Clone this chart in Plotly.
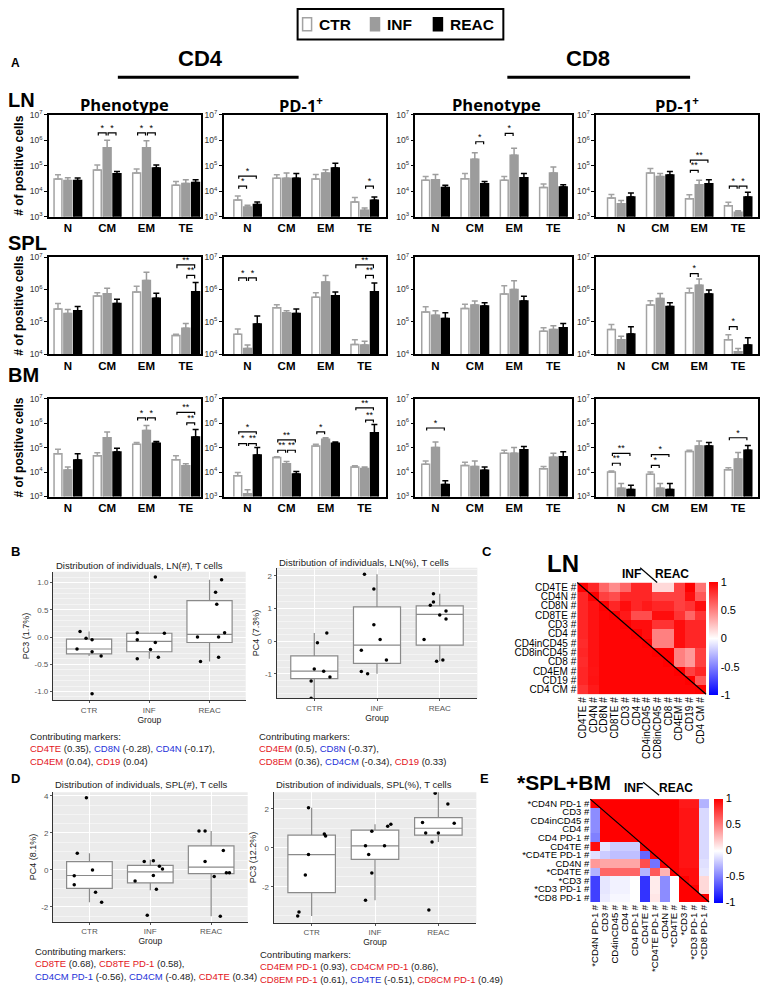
import plotly.graph_objects as go

W, H = 763, 994


def fx(x):
    return x / W


def fy(y):
    return 1 - y / H


GROUPS = ["CTR", "INF", "REAC"]
SUBSETS = ["N", "CM", "EM", "TE"]
Y_TICKVALS = [1e3, 1e4, 1e5, 1e6, 1e7]
Y_TICKTEXT = ["10<sup>3</sup>", "10<sup>4</sup>", "10<sup>5</sup>", "10<sup>6</sup>", "10<sup>7</sup>"]

# ---------------- Panel A: means (rows CTR, INF, REAC) and mean+SEM ----------------
LN_CD4_PHEN = [[3.0e4, 6.8e4, 5.2e4, 1.7e4], [2.6e4, 5.1e5, 5.1e5, 2.0e4], [2.6e4, 4.8e4, 8.1e4, 2.2e4]]
LN_CD4_PHEN_TOP = [[4.4e4, 1.07e5, 7.4e4, 2.4e4], [3.4e4, 1.0e6, 9.5e5, 2.8e4], [3.3e4, 5.9e4, 1.07e5, 2.8e4]]
LN_CD4_PD1 = [[4.5e3, 3.2e4, 3.0e4, 3.8e3], [2.4e3, 3.2e4, 5.2e4, 1.8e3], [3.0e3, 3.2e4, 8.1e4, 4.4e3]]
LN_CD4_PD1_TOP = [[6.5e3, 4.4e4, 4.5e4, 5.6e3], [2.8e3, 5.2e4, 7.0e4, 2.2e3], [3.8e3, 5.0e4, 1.26e5, 5.9e3]]
LN_CD8_PHEN = [[2.7e4, 3.1e4, 2.7e4, 1.4e4], [2.8e4, 1.8e5, 2.6e5, 5.2e4], [1.4e4, 1.95e4, 3.4e4, 1.45e4]]
LN_CD8_PHEN_TOP = [[3.8e4, 4.9e4, 3.8e4, 1.9e4], [4.5e4, 3.2e5, 4.8e5, 9.0e4], [1.7e4, 2.4e4, 4.9e4, 1.8e4]]
LN_CD8_PD1 = [[5.4e3, 5.2e4, 5.0e3, 2.7e3], [3.2e3, 3.8e4, 1.8e4, 1.5e3], [5.9e3, 4.3e4, 1.95e4, 5.9e3]]
LN_CD8_PD1_TOP = [[7.4e3, 7.8e4, 7.2e3, 3.7e3], [4.3e3, 4.9e4, 2.7e4, 1.7e3], [8.4e3, 5.9e4, 2.8e4, 9.1e3]]

SPL_CD4_PHEN = [[2.5e5, 6.3e5, 8.3e5, 3.8e4], [1.8e5, 7.4e5, 1.9e6, 6.3e4], [2.2e5, 3.7e5, 5.4e5, 8.5e5]]
SPL_CD4_PHEN_TOP = [[3.7e5, 7.9e5, 1.26e6, 4.1e4], [2.4e5, 1.1e6, 3.4e6, 8.9e4], [3.0e5, 5.0e5, 7.6e5, 1.66e6]]
SPL_CD4_PD1 = [[4.1e4, 2.7e5, 5.8e5, 2.0e4], [1.5e4, 1.9e5, 1.7e6, 1.9e4], [8.6e4, 1.8e5, 6.4e5, 8.5e5]]
SPL_CD4_PD1_TOP = [[6.0e4, 3.4e5, 7.9e5, 2.8e4], [1.9e4, 2.2e5, 2.7e6, 2.5e4], [1.5e5, 2.5e5, 8.3e5, 1.6e6]]
SPL_CD8_PHEN = [[2.0e5, 2.6e5, 7.2e5, 5.1e4], [1.6e5, 3.3e5, 1.0e6, 5.8e4], [1.27e5, 3.1e5, 4.4e5, 6.5e4]]
SPL_CD8_PHEN_TOP = [[2.9e5, 3.5e5, 1.3e6, 6.5e4], [2.2e5, 4.4e5, 1.85e6, 7.5e4], [1.9e5, 3.9e5, 6.2e5, 8.9e4]]
SPL_CD8_PD1 = [[5.8e4, 3.3e5, 7.9e5, 2.8e4], [2.8e4, 5.3e5, 1.36e6, 1.18e4], [4.2e4, 3.0e5, 7.2e5, 1.9e4]]
SPL_CD8_PD1_TOP = [[8.3e4, 4.5e5, 1.1e6, 4.0e4], [3.6e4, 7.5e5, 2.1e6, 1.5e4], [7.0e4, 3.9e5, 9.6e5, 3.2e4]]

BM_CD4_PHEN = [[5.6e4, 4.6e4, 1.35e5, 3.2e4], [1.2e4, 2.5e5, 5.0e5, 1.8e4], [3.1e4, 6.6e4, 1.5e5, 2.7e5]]
BM_CD4_PHEN_TOP = [[8.5e4, 6.2e4, 1.6e5, 4.6e4], [1.6e4, 4.3e5, 8.0e5, 2.2e4], [5.6e4, 9.3e4, 1.75e5, 5.5e5]]
BM_CD4_PD1 = [[7.1e3, 3.9e4, 1.15e5, 1.6e4], [1.3e3, 2.2e4, 2.2e5, 1.4e4], [5.0e4, 8.3e3, 1.5e5, 4.0e5]]
BM_CD4_PD1_TOP = [[9.6e3, 4.2e4, 1.35e5, 1.8e4], [1.9e3, 2.7e4, 2.5e5, 1.6e4], [1.0e5, 1.05e4, 1.7e5, 8.7e5]]
BM_CD8_PHEN = [[2.1e4, 1.85e4, 5.9e4, 1.36e4], [1.0e5, 1.7e4, 5.9e4, 4.0e4], [3.1e3, 1.17e4, 8.1e4, 4.2e4]]
BM_CD8_PHEN_TOP = [[2.8e4, 2.5e4, 7.8e4, 1.7e4], [1.7e5, 2.8e4, 1.0e5, 5.9e4], [4.4e3, 1.6e4, 1.1e5, 6.7e4]]
BM_CD8_PD1 = [[1.0e4, 8.1e3, 6.9e4, 1.24e4], [2.2e3, 2.2e3, 1.17e5, 3.4e4], [1.95e3, 1.95e3, 1.17e5, 7.8e4]]
BM_CD8_PD1_TOP = [[1.1e4, 1.0e4, 7.8e4, 1.5e4], [3.4e3, 3.4e3, 1.85e5, 6.3e4], [2.9e3, 3.4e3, 1.6e5, 1.2e5]]

# significance brackets: (subset index, group a, group b, log10 level, label)
LN_CD4_PHEN_SIG = [(1, 0, 1, 6.29, "*"), (1, 1, 2, 6.29, "*"), (2, 0, 1, 6.29, "*"), (2, 1, 2, 6.29, "*")]
LN_CD4_PD1_SIG = [(0, 0, 1, 4.2, "*"), (0, 0, 2, 4.59, "*"), (3, 1, 2, 4.2, "*")]
LN_CD8_PHEN_SIG = [(1, 1, 2, 5.94, "*"), (2, 0, 1, 6.27, "*")]
LN_CD8_PD1_SIG = [(2, 0, 1, 4.82, "**"), (2, 0, 2, 5.22, "**"), (3, 0, 1, 4.2, "*"), (3, 1, 2, 4.2, "*")]
SPL_CD4_PHEN_SIG = [(3, 1, 2, 6.44, "**"), (3, 0, 2, 6.76, "**")]
SPL_CD4_PD1_SIG = [(0, 0, 1, 6.36, "*"), (0, 1, 2, 6.36, "*"), (3, 1, 2, 6.44, "**"), (3, 0, 2, 6.76, "**")]
SPL_CD8_PHEN_SIG = []
SPL_CD8_PD1_SIG = [(2, 0, 1, 6.49, "*"), (3, 0, 1, 4.85, "*")]
BM_CD4_PHEN_SIG = [(2, 0, 1, 6.21, "*"), (2, 1, 2, 6.21, "*"), (3, 1, 2, 6.01, "**"), (3, 0, 2, 6.44, "**")]
BM_CD4_PD1_SIG = [(0, 0, 1, 5.16, "*"), (0, 1, 2, 5.16, "**"), (0, 0, 2, 5.64, "*"),
                  (1, 0, 1, 4.89, "**"), (1, 1, 2, 4.89, "**"), (1, 0, 2, 5.31, "**"),
                  (2, 0, 1, 5.64, "*"), (3, 1, 2, 6.12, "**"), (3, 0, 2, 6.62, "**")]
BM_CD8_PHEN_SIG = [(0, 0, 2, 5.8, "*")]
BM_CD8_PD1_SIG = [(0, 0, 1, 4.36, "**"), (0, 0, 2, 4.76, "**"), (1, 0, 1, 4.27, "*"),
                  (1, 0, 2, 4.71, "*"), (3, 0, 2, 5.4, "*")]

# ---------------- Panels B / D: PCA boxplots ----------------
LN_ABS_Q1 = [-0.31, -0.27, -0.10]
LN_ABS_MED = [-0.22, -0.08, 0.05]
LN_ABS_Q3 = [-0.04, 0.07, 0.67]
LN_ABS_LOW = [-0.35, -0.40, -0.45]
LN_ABS_HIGH = [0.10, 0.08, 1.05]
LN_ABS_POINTS = [[0.10, -0.02, -0.05, -0.22, -0.27, -0.35, -1.04],
                 [1.10, 0.08, 0.07, -0.05, -0.10, -0.23, -0.37, -0.40],
                 [1.05, 0.82, 0.60, 0.08, 0.00, 0.00, -0.37, -0.45]]
LN_ABS_JITTER = [[-0.15, -0.05, 0.05, -0.2, 0.05, 0.2, 0.05],
                 [0.1, -0.2, 0.25, -0.2, 0.1, 0.02, 0.15, -0.2],
                 [0.2, 0.1, 0.12, 0.25, 0.15, -0.2, 0.15, -0.15]]

LN_PCT_Q1 = [-1.15, -0.68, -0.12]
LN_PCT_MED = [-0.92, -0.12, 0.82]
LN_PCT_Q3 = [-0.45, 1.05, 1.08]
LN_PCT_LOW = [-1.75, -1.00, -0.62]
LN_PCT_HIGH = [0.25, 2.05, 1.45]
LN_PCT_POINTS = [[0.25, -0.05, -0.85, -0.92, -1.10, -1.22, -1.75],
                 [2.05, 1.60, 0.50, 0.05, -0.28, -0.58, -0.93, -1.00],
                 [1.45, 1.20, 1.10, 0.92, 0.80, 0.68, 0.05, -0.58, -0.62]]
LN_PCT_JITTER = [[0.2, 0.05, 0.0, 0.15, 0.25, -0.05, -0.05],
                 [-0.2, -0.05, -0.05, 0.05, -0.25, 0.15, -0.25, -0.15],
                 [-0.1, -0.1, -0.15, 0.1, 0.0, 0.1, -0.25, 0.05, -0.05]]

SPL_ABS_Q1 = [-1.0, -0.7, -0.2]
SPL_ABS_MED = [-0.3, -0.1, 0.15]
SPL_ABS_Q3 = [0.45, 0.25, 1.3]
SPL_ABS_LOW = [-1.75, -1.1, -2.5]
SPL_ABS_HIGH = [0.9, 0.55, 2.1]
SPL_ABS_POINTS = [[3.9, 0.9, 0.0, -0.32, -0.8, -1.2, -1.75],
                  [0.5, 0.45, 0.2, 0.05, -0.3, -0.6, -1.05, -2.45],
                  [2.1, 2.1, 1.05, 0.45, -0.15, -0.15, -0.35, -2.5]]
SPL_ABS_JITTER = [[-0.05, -0.2, 0.05, -0.25, -0.25, 0.1, 0.2],
                  [0.05, -0.1, 0.15, 0.2, 0.05, -0.25, 0.1, -0.05],
                  [-0.2, -0.1, 0.2, -0.1, 0.25, 0.3, 0.05, 0.15]]

SPL_PCT_Q1 = [-2.3, -0.6, 0.65]
SPL_PCT_MED = [-0.35, 0.1, 1.0]
SPL_PCT_Q3 = [0.65, 0.9, 1.55]
SPL_PCT_LOW = [-3.5, -2.7, 0.3]
SPL_PCT_HIGH = [2.05, 1.2, 2.9]
SPL_PCT_POINTS = [[2.05, 0.7, 0.6, -0.35, -1.4, -3.3, -3.5],
                  [1.2, 1.1, 0.85, 0.1, 0.1, -0.35, -1.3, -2.7],
                  [2.8, 2.25, 1.3, 1.25, 0.75, 0.75, 0.3, -3.2]]
SPL_PCT_JITTER = [[-0.05, 0.2, 0.22, -0.05, -0.1, -0.2, -0.22],
                  [0.25, 0.2, -0.05, -0.15, 0.15, -0.1, -0.05, -0.15],
                  [-0.05, 0.15, -0.25, 0.25, -0.2, 0.0, -0.1, -0.15]]

LN_ABS_MARKERS = [("CD4TE", 0.35), ("CD8N", -0.28), ("CD4N", -0.17), ("CD4EM", 0.04), ("CD19", 0.04)]
LN_PCT_MARKERS = [("CD4EM", 0.5), ("CD8N", -0.37), ("CD8EM", 0.36), ("CD4CM", -0.34), ("CD19", 0.33)]
SPL_ABS_MARKERS = [("CD8TE", 0.68), ("CD8TE PD-1", 0.58), ("CD4CM PD-1", -0.56), ("CD4CM", -0.48), ("CD4TE", 0.34)]
SPL_PCT_MARKERS = [("CD4EM PD-1", 0.93), ("CD4CM PD-1", 0.86), ("CD8EM PD-1", 0.61), ("CD4TE", -0.51), ("CD8CM PD-1", 0.49)]

# ---------------- Panels C / E: correlation matrices ----------------
LN_LABELS = ["CD4TE #", "CD4N #", "CD8N #", "CD8TE #", "CD3 #", "CD4 #", "CD4inCD45 #",
             "CD8inCD45 #", "CD8 #", "CD4EM #", "CD19 #", "CD4 CM #"]
LN_CORR = [
    [1.00, 0.85, 0.60, 0.45, 0.60, 0.85, 0.85, 0.15, 0.15, 0.75, 1.00, 0.55],
    [0.85, 1.00, 0.75, 0.70, 0.85, 0.85, 0.85, 0.75, 0.75, 0.75, 0.95, 0.65],
    [0.85, 0.93, 1.00, 0.85, 0.95, 0.85, 0.90, 0.85, 0.85, 0.75, 0.80, 0.95],
    [0.85, 0.93, 0.98, 1.00, 0.90, 0.70, 0.70, 0.95, 0.95, 0.80, 0.60, 0.80],
    [0.85, 0.93, 0.98, 0.98, 1.00, 0.95, 0.95, 0.80, 0.80, 0.95, 0.85, 0.85],
    [0.85, 0.93, 0.98, 0.98, 0.98, 1.00, 0.95, 0.50, 0.50, 0.95, 0.85, 0.85],
    [0.83, 0.93, 0.98, 0.98, 0.98, 0.98, 1.00, 0.50, 0.50, 0.95, 0.85, 0.85],
    [0.85, 0.93, 0.98, 0.98, 0.98, 0.98, 0.98, 1.00, 1.00, 0.50, 0.40, 0.75],
    [0.83, 0.93, 0.98, 0.98, 0.98, 0.98, 0.98, 0.98, 1.00, 0.50, 0.40, 0.75],
    [0.85, 0.92, 0.98, 0.98, 0.98, 0.98, 0.98, 0.98, 0.98, 1.00, 0.75, 0.85],
    [0.85, 0.93, 0.98, 0.98, 0.98, 0.98, 0.98, 0.98, 0.98, 0.98, 1.00, 0.65],
    [0.80, 0.90, 0.98, 0.98, 0.98, 0.98, 0.98, 0.98, 0.98, 0.98, 0.98, 1.00],
]
SPLBM_LABELS = ["*CD4N PD-1 #", "CD3 #", "CD4inCD45 #", "CD4 #", "CD4 PD-1 #", "CD4TE #",
                "*CD4TE PD-1 #", "CD4N #", "*CD4TE #", "*CD3 #", "*CD3 PD-1 #", "*CD8 PD-1 #"]
SPLBM_CORR = [
    [1.00, 1.00, 1.00, 1.00, 1.00, 1.00, 1.00, 1.00, 1.00, 0.90, 0.90, -0.30],
    [-0.45, 1.00, 1.00, 1.00, 1.00, 1.00, 1.00, 1.00, 1.00, 0.92, 0.92, -0.15],
    [-0.45, 1.00, 1.00, 1.00, 1.00, 1.00, 1.00, 1.00, 1.00, 0.92, 0.92, -0.15],
    [-0.45, 1.00, 1.00, 1.00, 1.00, 1.00, 1.00, 1.00, 1.00, 0.92, 0.92, -0.15],
    [-0.50, 1.00, 1.00, 1.00, 1.00, 1.00, 1.00, 1.00, 1.00, 0.92, 0.92, -0.15],
    [0.95, -0.10, -0.20, -0.20, -0.20, 1.00, 1.00, 1.00, 1.00, 0.92, 0.92, -0.15],
    [-0.12, -0.20, -0.25, -0.25, -0.25, -0.60, 1.00, 1.00, 1.00, 0.92, 0.92, -0.15],
    [0.40, 0.35, 0.35, 0.35, 0.35, 0.70, -0.55, 1.00, 1.00, 0.92, 0.92, -0.12],
    [-0.30, 0.60, 0.60, 0.60, 0.60, -0.30, 0.65, 0.30, 1.00, 0.95, 0.95, -0.10],
    [-0.75, -0.10, -0.05, -0.05, 0.00, -0.80, 0.08, -0.45, 0.00, 1.00, 0.95, 0.15],
    [-0.75, -0.10, -0.05, -0.05, 0.00, -0.80, 0.08, -0.45, 0.00, 1.00, 1.00, 0.15],
    [-0.75, -0.08, -0.03, -0.03, 0.00, -0.80, 0.10, -0.45, 0.00, 1.00, 1.00, 1.00],
]

# ---------------- styling ----------------
SANS = "Liberation Sans, Arial, sans-serif"
OPEN = "Open Sans, Liberation Sans, sans-serif"
GROUP_FILL = ["white", "#9c9c9c", "black"]
GROUP_LINE = ["#a3a3a3", "#9c9c9c", "black"]
OFFS = [-0.25, 0.0, 0.25]
RED, BLUE = "#e3141b", "#2430d8"

COL_X = [(48, 200), (223, 386), (415, 572), (596, 758)]
COL_RANGE = [(-0.48, 3.38), (-0.61, 3.56), (-0.51, 3.48), (-0.64, 3.51)]
ROW_Y = [(110, 213), (254, 352), (397, 496)]
ROW_LOG = [(3, 7), (4, 7), (3, 7)]

BAR_PANELS = [
    [(LN_CD4_PHEN, LN_CD4_PHEN_TOP, LN_CD4_PHEN_SIG), (LN_CD4_PD1, LN_CD4_PD1_TOP, LN_CD4_PD1_SIG),
     (LN_CD8_PHEN, LN_CD8_PHEN_TOP, LN_CD8_PHEN_SIG), (LN_CD8_PD1, LN_CD8_PD1_TOP, LN_CD8_PD1_SIG)],
    [(SPL_CD4_PHEN, SPL_CD4_PHEN_TOP, SPL_CD4_PHEN_SIG), (SPL_CD4_PD1, SPL_CD4_PD1_TOP, SPL_CD4_PD1_SIG),
     (SPL_CD8_PHEN, SPL_CD8_PHEN_TOP, SPL_CD8_PHEN_SIG), (SPL_CD8_PD1, SPL_CD8_PD1_TOP, SPL_CD8_PD1_SIG)],
    [(BM_CD4_PHEN, BM_CD4_PHEN_TOP, BM_CD4_PHEN_SIG), (BM_CD4_PD1, BM_CD4_PD1_TOP, BM_CD4_PD1_SIG),
     (BM_CD8_PHEN, BM_CD8_PHEN_TOP, BM_CD8_PHEN_SIG), (BM_CD8_PD1, BM_CD8_PD1_TOP, BM_CD8_PD1_SIG)],
]

fig = go.Figure()
layout = {}
shapes = []
annotations = []


def refs(k):
    s = "" if k == 1 else str(k)
    return "xaxis" + s, "yaxis" + s, "x" + s, "y" + s


def ann(text, x, y, size, xanchor="center", yanchor="middle", color="black", family=SANS, angle=0):
    annotations.append(dict(text=text, x=fx(x), y=fy(y), xref="paper", yref="paper",
                            xanchor=xanchor, yanchor=yanchor, showarrow=False, textangle=angle,
                            font=dict(size=size, color=color, family=family)))


def line(x0, y0, x1, y1, width=1.2):
    shapes.append(dict(type="line", xref="paper", yref="paper", x0=fx(x0), y0=fy(y0), x1=fx(x1), y1=fy(y1),
                       line=dict(color="black", width=width)))


def rect(x0, y0, x1, y1, fill, color, width):
    shapes.append(dict(type="rect", xref="paper", yref="paper", x0=fx(x0), y0=fy(y1), x1=fx(x1), y1=fy(y0),
                       fillcolor=fill, line=dict(color=color, width=width)))


# ---------------- Panel A bars ----------------
k = 0
for r, row in enumerate(BAR_PANELS):
    for c, (means, tops, sigs) in enumerate(row):
        k += 1
        xa, ya, xr, yr = refs(k)
        for gi, g in enumerate(GROUPS):
            vals = means[gi]
            errs = [t - v for t, v in zip(tops[gi], vals)]
            fig.add_trace(go.Bar(
                x=list(range(len(SUBSETS))), y=vals, name=g, legendgroup=g, showlegend=False,
                marker=dict(color=GROUP_FILL[gi], line=dict(color=GROUP_LINE[gi], width=1.5)),
                error_y=dict(type="data", symmetric=False, array=errs, arrayminus=[0] * len(vals),
                             color=GROUP_LINE[gi], thickness=1.5, width=3),
                xaxis=xr, yaxis=yr, hoverinfo="skip"))
        if sigs:
            bx, by, tx, ty, tt = [], [], [], [], []
            for (ci, g1, g2, lvl, lab) in sigs:
                x0 = ci + OFFS[g1] + 0.025
                x1 = ci + OFFS[g2] - 0.025
                lo, hi = 10 ** (lvl - 0.1), 10 ** lvl
                bx += [x0, x0, x1, x1, None]
                by += [lo, hi, hi, lo, None]
                tx.append((x0 + x1) / 2)
                ty.append(hi)
                tt.append(lab)
            fig.add_trace(go.Scatter(x=bx, y=by, mode="lines", line=dict(color="black", width=1.2),
                                     xaxis=xr, yaxis=yr, showlegend=False, hoverinfo="skip"))
            fig.add_trace(go.Scatter(x=tx, y=ty, mode="text", text=tt, textposition="top center",
                                     textfont=dict(size=9, color="black", family=SANS),
                                     xaxis=xr, yaxis=yr, showlegend=False, hoverinfo="skip"))
        x0, x1 = COL_X[c]
        y0, y1 = ROW_Y[r]
        layout[xa] = dict(domain=[fx(x0), fx(x1)], anchor=yr, range=list(COL_RANGE[c]),
                          tickmode="array", tickvals=list(range(len(SUBSETS))), ticktext=SUBSETS,
                          tickfont=dict(size=11.5, family=SANS, color="black", weight="bold"),
                          showline=True, linecolor="black", linewidth=1.5, mirror=True,
                          ticks="", showgrid=False, zeroline=False)
        yd = dict(domain=[fy(y1), fy(y0)], anchor=xr, type="log", range=list(ROW_LOG[r]),
                  tickmode="array", tickvals=Y_TICKVALS, ticktext=Y_TICKTEXT,
                  tickfont=dict(size=8.5, family=SANS, color="#333"),
                  ticks="outside", ticklen=3, tickwidth=1, tickcolor="black",
                  showline=True, linecolor="black", linewidth=1.5, mirror=True,
                  showgrid=False, zeroline=False)
        if c == 0:
            yd["title"] = dict(text="<b># of positive cells</b>", standoff=3,
                               font=dict(size=12, family=SANS, color="black"))
        layout[ya] = yd

# ---------------- Panels B / D boxplots ----------------
BOX_PANELS = [
    dict(q1=LN_ABS_Q1, med=LN_ABS_MED, q3=LN_ABS_Q3, lo=LN_ABS_LOW, hi=LN_ABS_HIGH,
         pts=LN_ABS_POINTS, jit=LN_ABS_JITTER, xs=(52, 245), ys=(572, 702), rng=(-1.16, 1.2),
         tv=[-1, -0.5, 0, 0.5, 1], tt=["-1.0", "-0.5", "0.0", "0.5", "1.0"], yt="PC3 (1.7%)",
         title="Distribution of individuals, LN(#), T cells", txy=(53, 566),
         markers=LN_ABS_MARKERS, brk=3, mxy=(27, 731)),
    dict(q1=LN_PCT_Q1, med=LN_PCT_MED, q3=LN_PCT_Q3, lo=LN_PCT_LOW, hi=LN_PCT_HIGH,
         pts=LN_PCT_POINTS, jit=LN_PCT_JITTER, xs=(276, 477), ys=(568, 700), rng=(-1.75, 2.25),
         tv=[-1, 0, 1, 2], tt=["-1", "0", "1", "2"], yt="PC4 (7.3%)",
         title="Distribution of individuals, LN(%), T cells", txy=(276, 563),
         markers=LN_PCT_MARKERS, brk=2, mxy=(256, 731)),
    dict(q1=SPL_ABS_Q1, med=SPL_ABS_MED, q3=SPL_ABS_Q3, lo=SPL_ABS_LOW, hi=SPL_ABS_HIGH,
         pts=SPL_ABS_POINTS, jit=SPL_ABS_JITTER, xs=(52, 247), ys=(795, 926), rng=(-2.8, 4.2),
         tv=[-2, 0, 2, 4], tt=["-2", "0", "2", "4"], yt="PC4 (8.1%)",
         title="Distribution of individuals, SPL(#), T cells", txy=(52, 787),
         markers=SPL_ABS_MARKERS, brk=2, mxy=(32, 949)),
    dict(q1=SPL_PCT_Q1, med=SPL_PCT_MED, q3=SPL_PCT_Q3, lo=SPL_PCT_LOW, hi=SPL_PCT_HIGH,
         pts=SPL_PCT_POINTS, jit=SPL_PCT_JITTER, xs=(273, 476), ys=(795, 927), rng=(-3.85, 2.85),
         tv=[-2, 0, 2], tt=["-2", "0", "2"], yt="PC3 (12.2%)",
         title="Distribution of individuals, SPL(%), T cells", txy=(273, 787),
         markers=SPL_PCT_MARKERS, brk=2, mxy=(257, 952)),
]

for p in BOX_PANELS:
    k += 1
    xa, ya, xr, yr = refs(k)
    fig.add_trace(go.Box(x=[1, 2, 3], q1=p["q1"], median=p["med"], q3=p["q3"],
                         lowerfence=p["lo"], upperfence=p["hi"], width=0.75,
                         fillcolor="white", line=dict(color="#8a8a8a", width=1.2),
                         whiskerwidth=0, boxpoints=False, showlegend=False, hoverinfo="skip",
                         xaxis=xr, yaxis=yr))
    px_, py_ = [], []
    for gi in range(3):
        for v, j in zip(p["pts"][gi], p["jit"][gi]):
            px_.append(gi + 1 + j)
            py_.append(v)
    fig.add_trace(go.Scatter(x=px_, y=py_, mode="markers", marker=dict(color="black", size=3.5),
                             showlegend=False, hoverinfo="skip", xaxis=xr, yaxis=yr))
    layout[xa] = dict(domain=[fx(p["xs"][0]), fx(p["xs"][1])], anchor=yr, range=[0.4, 3.6],
                      tickmode="array", tickvals=[1, 2, 3], ticktext=GROUPS,
                      tickfont=dict(size=8, color="#555", family=SANS),
                      ticks="outside", ticklen=2, tickcolor="#555",
                      showgrid=True, gridcolor="white", gridwidth=1, zeroline=False,
                      showline=True, linecolor="#333", linewidth=1,
                      title=dict(text="Group", standoff=1, font=dict(size=8.5, color="#222", family=SANS)))
    layout[ya] = dict(domain=[fy(p["ys"][1]), fy(p["ys"][0])], anchor=xr, range=list(p["rng"]),
                      tickmode="array", tickvals=p["tv"], ticktext=p["tt"],
                      tickfont=dict(size=8, color="#555", family=SANS),
                      ticks="outside", ticklen=2, tickcolor="#555",
                      showgrid=True, gridcolor="white", gridwidth=1, zeroline=False,
                      minor=dict(showgrid=True, gridcolor="#f4f4f4", gridwidth=0.6),
                      showline=True, linecolor="#333", linewidth=1,
                      title=dict(text=p["yt"], standoff=3, font=dict(size=9, color="#222", family=SANS)))
    shapes.append(dict(type="rect", xref=xr + " domain", yref=yr + " domain", x0=0, x1=1, y0=0, y1=1,
                       fillcolor="#ebebeb", line=dict(width=0), layer="below"))
    ann(p["title"], p["txy"][0], p["txy"][1], 9.5, xanchor="left", color="#222")
    parts = []
    for i, (name, val) in enumerate(p["markers"]):
        col = RED if val >= 0 else BLUE
        sep = "" if i == len(p["markers"]) - 1 else ("," if i == p["brk"] - 1 else ", ")
        parts.append(f"<span style='color:{col}'>{name}</span> ({val:g}){sep}")
        if i == p["brk"] - 1:
            parts.append("<br>")
    text = "Contributing markers:<br>" + "".join(parts)
    annotations.append(dict(text=text, x=fx(p["mxy"][0]), y=fy(p["mxy"][1]), xref="paper", yref="paper",
                            xanchor="left", yanchor="top", align="left", showarrow=False,
                            font=dict(size=9.5, color="#222", family=SANS)))

# ---------------- Panels C / E heatmaps ----------------
HEATMAPS = [
    dict(z=LN_CORR, labels=LN_LABELS, xs=(577, 706), ys=(583, 696), cbx=709, fs=10),
    dict(z=SPLBM_CORR, labels=SPLBM_LABELS, xs=(590, 709), ys=(802, 906), cbx=714, fs=9.5),
]
for hm in HEATMAPS:
    k += 1
    xa, ya, xr, yr = refs(k)
    y0, y1 = hm["ys"]
    fig.add_trace(go.Heatmap(
        z=hm["z"], x=hm["labels"], y=hm["labels"], zmin=-1, zmax=1,
        colorscale=[[0, "#0000ff"], [0.5, "#ffffff"], [1, "#ff0000"]],
        colorbar=dict(x=fx(hm["cbx"]), xanchor="left", y=fy((y0 + y1) / 2), yanchor="middle",
                      len=y1 - y0, lenmode="pixels", thickness=9, thicknessmode="pixels",
                      outlinewidth=0, ticks="", tickmode="array",
                      tickvals=[-1, -0.5, 0, 0.5, 1], ticktext=["-1", "-0.5", "0", "0.5", "1"],
                      tickfont=dict(size=11, family=SANS, color="black"), xpad=0, ypad=0),
        xaxis=xr, yaxis=yr, hoverinfo="skip"))
    layout[xa] = dict(domain=[fx(hm["xs"][0]), fx(hm["xs"][1])], anchor=yr, tickangle=-90,
                      tickmode="array", tickvals=hm["labels"], ticktext=hm["labels"],
                      tickfont=dict(size=hm["fs"], family=SANS, color="black"),
                      showgrid=False, zeroline=False, showline=False, ticks="")
    layout[ya] = dict(domain=[fy(y1), fy(y0)], anchor=xr, autorange="reversed",
                      tickmode="array", tickvals=hm["labels"], ticktext=hm["labels"],
                      tickfont=dict(size=hm["fs"], family=SANS, color="black"),
                      showgrid=False, zeroline=False, showline=False, ticks="")
    shapes.append(dict(type="line", xref=xr + " domain", yref=yr + " domain", x0=0, y0=1, x1=1, y1=0,
                       line=dict(color="black", width=1.2)))

# ---------------- legend (top) ----------------
rect(297, 3, 503, 34, "white", "black", 2)
LEGEND_KEYS = [(302, 311, 316), (370, 379, 385), (433, 442, 448)]
for gi, (sx0, sx1, tx) in enumerate(LEGEND_KEYS):
    rect(sx0, 12, sx1, 25, GROUP_FILL[gi], GROUP_LINE[gi], 1.5)
    ann("<b>" + GROUPS[gi] + "</b>", tx, 19, 15.5, xanchor="left")

# ---------------- text / decorations ----------------
ann("<b>A</b>", 15, 58, 12)
ann("<b>CD4</b>", 200, 53, 22)
ann("<b>CD8</b>", 588, 53, 22)
line(117, 72, 298, 72, width=3)
line(507, 72, 690, 72, width=3)
ann("<b>Phenotype</b>", 124, 100, 16.5, family=OPEN)
ann("<b>PD-1<sup>+</sup></b>", 300, 100, 16.5, family=OPEN)
ann("<b>Phenotype</b>", 496, 100, 16.5, family=OPEN)
ann("<b>PD-1<sup>+</sup></b>", 677, 100, 16.5, family=OPEN)
ann("<b>LN</b>", 5, 95, 20, xanchor="left")
ann("<b>SPL</b>", 5, 240, 20, xanchor="left")
ann("<b>BM</b>", 5, 373, 20, xanchor="left")
ann("<b>B</b>", 15, 552, 13)
ann("<b>C</b>", 487, 552, 13)
ann("<b>D</b>", 15, 781, 13)
ann("<b>E</b>", 484, 781, 13)
ann("<b>LN</b>", 563, 564, 24)
ann("<b>*SPL+BM</b>", 564, 785, 21)
ann("<b>INF</b>", 631, 574, 12)
ann("<b>REAC</b>", 672, 574, 12)
line(640, 568, 657, 583)
ann("<b>INF</b>", 633, 791, 12)
ann("<b>REAC</b>", 676, 791, 12)
line(643, 785, 659, 798)

layout.update(dict(
    width=W, height=H, margin=dict(l=0, r=0, t=0, b=0),
    paper_bgcolor="white", plot_bgcolor="white",
    barmode="group", bargap=0.25, bargroupgap=0.2,
    font=dict(family=SANS, color="black"),
    showlegend=False,
    shapes=shapes, annotations=annotations,
))
fig.update_layout(**layout)
fig.write_html("out.html", config={"displayModeBar": False},
               post_script="document.body.style.margin='0px';")
